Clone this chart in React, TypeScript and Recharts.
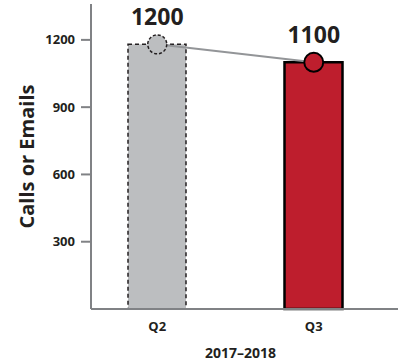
import {
  Bar,
  Cell,
  ComposedChart,
  Label,
  LabelList,
  Line,
  XAxis,
  YAxis,
} from "recharts";

const quarters = ["Q2", "Q3"];
const contacts = [1180, 1100];
const contactLabels = ["1200", "1100"];
const yTicks = [300, 600, 900, 1200];
const periodLabel = "2017–2018";
const yLabel = "Calls or Emails";

const data = quarters.map((q, i) => ({
  quarter: q,
  value: contacts[i],
  label: contactLabels[i],
}));

const ink = "#231f20";
const axisGray = "#808285";
const font = "'Open Sans', sans-serif";

const barLook = [
  { fill: "#bcbec0", stroke: ink, strokeWidth: 1.5, strokeDasharray: "4 3" },
  { fill: "#be1e2d", stroke: "#000", strokeWidth: 2.5, strokeDasharray: undefined },
];

const tickStyle = { fill: ink, fontSize: 13, fontWeight: 700, fontFamily: font };

function Dot(props: any) {
  const { cx, cy, index } = props;
  const look = barLook[index];
  return (
    <circle
      key={index}
      cx={cx}
      cy={cy}
      r={9.5}
      fill={look.fill}
      stroke={look.stroke}
      strokeWidth={index === 0 ? 1.5 : 2}
      strokeDasharray={index === 0 ? "3 2" : undefined}
    />
  );
}

export default function App() {
  return (
    <div style={{ position: "absolute", left: 0, top: 0, width: 398, height: 362, overflow: "hidden", background: "#fff" }}>
      <ComposedChart
        width={398}
        height={362}
        data={data}
        margin={{ top: 4, right: 0, left: 0, bottom: 0 }}
      >
        <XAxis
          dataKey="quarter"
          height={53}
          padding={{ left: -12, right: 6 }}
          axisLine={{ stroke: axisGray, strokeWidth: 2 }}
          tickLine={false}
          tickSize={0}
          tickMargin={13}
          tick={tickStyle}
        >
          <Label
            content={({ viewBox }: any) => (
              <text
                x={viewBox.x + viewBox.width / 2 - 4}
                y={viewBox.y + 49}
                textAnchor="middle"
                fill={ink}
                fontSize={14}
                fontWeight={700}
                fontFamily={font}
              >
                {periodLabel}
              </text>
            )}
          />
        </XAxis>
        <YAxis
          width={91}
          domain={[0, 1360]}
          ticks={yTicks}
          axisLine={{ stroke: axisGray, strokeWidth: 2 }}
          tickLine={{ stroke: axisGray, strokeWidth: 2 }}
          tickSize={10}
          tickMargin={6}
          tick={tickStyle}
        >
          <Label
            content={({ viewBox }: any) => {
              const x = viewBox.x + 34;
              const y = viewBox.y + viewBox.height / 2;
              return (
                <text
                  x={x}
                  y={y}
                  transform={`rotate(-90 ${x} ${y})`}
                  textAnchor="middle"
                  fill={ink}
                  fontSize={20}
                  fontWeight={700}
                  fontFamily={font}
                >
                  {yLabel}
                </text>
              );
            }}
          />
        </YAxis>
        <Bar dataKey="value" barSize={58} isAnimationActive={false}>
          {data.map((d, i) => (
            <Cell
              key={d.quarter}
              fill={barLook[i].fill}
              stroke={barLook[i].stroke}
              strokeWidth={barLook[i].strokeWidth}
              strokeDasharray={barLook[i].strokeDasharray}
            />
          ))}
        </Bar>
        <Line
          dataKey="value"
          stroke="#939598"
          strokeWidth={2}
          dot={Dot}
          activeDot={false}
          isAnimationActive={false}
        >
          <LabelList
            dataKey="label"
            content={(p: any) => (
              <text
                x={p.x}
                y={p.y - 19}
                textAnchor="middle"
                fill={ink}
                fontSize={23}
                fontWeight={700}
                fontFamily={font}
              >
                {p.value}
              </text>
            )}
          />
        </Line>
      </ComposedChart>
    </div>
  );
}
